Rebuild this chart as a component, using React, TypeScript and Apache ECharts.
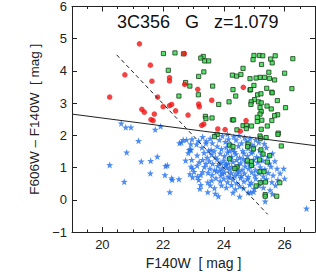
import React, { useEffect, useRef } from 'react';
import * as echarts from 'echarts';

const titleText = '3C356   G   z=1.079';
const xName = 'F140W  [ mag ]';
const yName = 'F606W – F140W  [ mag ]';
const xMajorTicks = [20, 22, 24, 26];

const redCircles: number[][] = [
  [21.22, 4.84], [20.74, 3.88], [20.24, 3.19], [21.58, 4.18], [21.63, 3.68], [21.82, 3.19],
  [21.3, 2.81], [21.38, 2.72], [21.71, 2.66], [21.6, 2.49], [21.67, 2.46], [22.0, 2.89],
  [22.21, 3.79], [22.21, 3.69], [22.21, 2.92], [22.28, 2.96], [22.41, 2.76], [22.82, 2.63],
  [22.7, 4.54], [22.71, 3.58], [23.14, 3.43], [23.17, 2.97], [23.19, 2.89], [23.27, 2.31],
  [23.34, 2.35], [23.6, 3.09], [23.8, 2.2], [24.04, 2.18], [24.54, 2.13], [24.64, 3.49],
  [24.73, 2.46],
];

const greenSquares: number[][] = [
  [22.01, 4.54], [22.39, 4.56], [22.67, 4.53], [22.17, 4.02], [22.74, 3.64], [22.88, 3.53],
  [22.52, 3.22], [23.17, 3.83], [23.16, 3.26], [23.32, 4.45], [23.24, 4.4], [23.37, 4.31],
  [23.5, 4.31], [23.34, 3.97], [23.63, 3.53], [23.83, 2.96], [24.17, 3.04], [24.28, 3.87],
  [24.42, 3.84], [24.56, 3.89], [24.63, 4.08], [24.86, 3.76], [24.3, 3.42], [24.86, 3.41],
  [24.39, 3.22], [24.99, 4.48], [25.17, 4.48], [25.28, 4.47], [25.69, 4.47], [24.96, 4.35],
  [25.24, 4.2], [25.59, 4.25], [25.54, 4.37], [26.0, 3.93], [26.27, 4.38], [25.48, 3.96],
  [25.19, 3.8], [25.34, 3.8], [25.06, 3.78], [25.5, 3.77], [25.67, 3.72], [25.41, 3.46],
  [25.58, 3.34], [25.11, 3.26], [25.01, 3.11], [24.9, 3.04], [24.89, 2.96], [25.14, 3.04],
  [25.23, 3.01], [25.19, 2.86], [25.23, 2.74], [25.19, 2.66], [25.56, 2.82], [26.03, 2.86],
  [25.76, 3.08], [25.42, 2.91], [25.77, 2.64], [25.58, 2.46], [25.25, 2.47], [25.1, 2.43],
  [24.91, 2.29], [24.63, 2.3], [24.28, 2.48], [24.43, 2.17], [23.39, 2.59], [23.41, 2.52],
  [25.43, 2.29], [25.79, 2.07], [24.74, 2.31], [26.24, 3.45], [24.99, 3.55], [24.88, 3.42],
  [25.22, 3.29], [25.59, 3.32], [24.74, 2.21], [25.23, 2.19], [23.61, 2.54], [24.32, 2.48],
  [25.1, 2.56], [25.67, 2.61],
  [23.78, 2.03], [23.69, 1.96], [24.19, 1.7], [24.3, 1.65], [25.19, 1.98], [25.21, 1.91],
  [25.39, 1.93], [24.8, 1.73], [24.78, 1.65], [25.78, 2.03], [25.89, 1.67], [24.19, 1.27],
  [24.43, 1.02], [24.77, 1.21], [24.91, 1.18], [24.91, 1.07], [25.17, 1.24], [25.19, 0.87],
  [25.32, 0.87], [25.43, 1.17], [25.2, 0.53], [25.37, 0.55], [25.36, 0.16], [25.36, 0.11],
  [25.74, 0.11], [25.84, 0.53], [25.06, 0.43], [24.36, 0.97], [24.97, 1.58], [25.22, 1.55],
  [25.29, 1.42], [25.51, 1.37],
];

const blueStars: number[][] = [
  [20.62, 2.37], [20.77, 2.25], [20.94, 2.25], [21.74, 2.18], [21.92, 2.28], [21.19, 1.83],
  [20.24, 1.08], [20.8, 1.47], [21.28, 1.19], [21.59, 1.21], [21.81, 1.34], [20.72, 0.56],
  [22.54, 1.76], [22.66, 1.86], [22.77, 1.86], [22.86, 1.55], [22.91, 1.55], [23.17, 1.83],
  [23.41, 1.75], [22.91, 1.73],
  [23.72, 2.02], [23.95, 1.98], [24.12, 2.04], [24.33, 1.96], [24.5, 1.99], [24.68, 1.93],
  [24.86, 1.9], [25.05, 1.86], [23.55, 1.9], [23.3, 1.95], [22.95, 1.88],
  [22.6, 1.78], [23.1, 1.72], [23.42, 1.82], [23.62, 1.76], [23.85, 1.86], [24.05, 1.8],
  [24.22, 1.72], [24.4, 1.85], [24.58, 1.76], [24.75, 1.82], [24.92, 1.71], [25.15, 1.78],
  [25.33, 1.74], [24.15, 1.88],
  [22.9, 1.57], [23.28, 1.62], [23.5, 1.53], [23.58, 1.55], [23.78, 1.66], [23.92, 1.58],
  [24.08, 1.63], [24.3, 1.55], [24.48, 1.67], [24.62, 1.52], [24.8, 1.6], [25.0, 1.66],
  [25.18, 1.54], [25.4, 1.62], [23.68, 1.51], [24.18, 1.52], [24.95, 1.5],
  [22.83, 1.45], [23.12, 1.38], [23.35, 1.46], [23.6, 1.4], [23.72, 1.32], [23.88, 1.44],
  [24.02, 1.36], [24.12, 1.47], [24.25, 1.34], [24.4, 1.42], [24.52, 1.31], [24.66, 1.44],
  [24.78, 1.36], [24.9, 1.46], [25.08, 1.33], [25.25, 1.41], [25.45, 1.34], [25.6, 1.44],
  [23.45, 1.31], [24.35, 1.49],
  [22.74, 1.22], [22.94, 1.24], [23.19, 1.17], [23.3, 1.24], [23.41, 1.12], [23.52, 1.2],
  [23.63, 1.12], [23.78, 1.26], [23.9, 1.15], [24.0, 1.22], [24.08, 1.11], [24.2, 1.28],
  [24.3, 1.18], [24.42, 1.24], [24.55, 1.14], [24.64, 1.27], [24.72, 1.18], [24.85, 1.12],
  [24.98, 1.25], [25.12, 1.16], [25.28, 1.22], [25.5, 1.13], [25.68, 1.2], [24.15, 1.13],
  [23.85, 1.12],
  [22.08, 1.05], [22.14, 1.07], [22.92, 1.03], [22.97, 0.97], [23.12, 1.06], [23.36, 1.02],
  [23.54, 0.97], [23.69, 0.92], [23.8, 1.05], [23.95, 0.98], [24.05, 1.08], [24.18, 0.94],
  [24.26, 1.02], [24.38, 0.96], [24.48, 1.07], [24.6, 0.93], [24.7, 1.04], [24.82, 0.97],
  [24.95, 1.06], [25.05, 0.92], [25.2, 1.01], [25.35, 0.95], [25.55, 1.03], [25.75, 0.97],
  [25.97, 0.97], [24.1, 1.0], [24.43, 0.91], [23.87, 0.91],
  [22.06, 0.77], [21.58, 0.82], [22.28, 0.67], [22.88, 0.8], [23.02, 0.87], [23.24, 0.77],
  [23.3, 0.87], [23.48, 0.84], [23.61, 0.77], [23.76, 0.88], [23.9, 0.76], [24.02, 0.85],
  [24.14, 0.72], [24.25, 0.83], [24.36, 0.75], [24.5, 0.88], [24.58, 0.74], [24.68, 0.82],
  [24.8, 0.71], [24.92, 0.86], [25.02, 0.76], [25.16, 0.83], [25.3, 0.73], [25.46, 0.84],
  [25.62, 0.76], [25.85, 0.82], [24.45, 0.8], [23.95, 0.82],
  [22.3, 0.62], [22.52, 0.64], [22.97, 0.7], [23.13, 0.72], [23.17, 0.62], [23.47, 0.54],
  [23.74, 0.67], [23.88, 0.58], [24.0, 0.66], [24.12, 0.55], [24.3, 0.63], [24.42, 0.52],
  [24.55, 0.68], [24.66, 0.57], [24.78, 0.64], [24.9, 0.53], [25.05, 0.66], [25.22, 0.58],
  [25.4, 0.64], [25.58, 0.55], [25.78, 0.62], [26.0, 0.66], [24.2, 0.69], [23.6, 0.6],
  [23.24, 0.46], [23.21, 0.34], [23.69, 0.36], [23.92, 0.45], [24.08, 0.38], [24.25, 0.46],
  [24.38, 0.33], [24.52, 0.42], [24.65, 0.36], [24.85, 0.47], [25.0, 0.34], [25.15, 0.44],
  [25.3, 0.38], [25.52, 0.3], [25.7, 0.45], [23.55, 0.45],
  [22.22, 0.24], [23.47, 0.24], [23.72, 0.19], [23.82, 0.11], [24.52, 0.1], [24.8, 0.23],
  [24.88, 0.22], [24.98, 0.25], [25.36, -0.05], [25.6, 0.18], [24.3, 0.22], [26.72, -0.27],
];

const solidLine: number[][] = [[19, 2.66], [27, 1.68]];
const dashedLine: number[][] = [[20.47, 4.5], [25.44, -0.45]];

const starPath =
  'path://M0,-10L2.35,-3.24L9.51,-3.09L3.8,1.24L5.88,8.09L0,4L-5.88,8.09L-3.8,1.24L-9.51,-3.09L-2.35,-3.24Z';

const FONT = '"Liberation Sans", Arial, Helvetica, sans-serif';
const INK = '#222';

export default function App() {
  const ref = useRef<HTMLDivElement>(null);
  useEffect(() => {
    if (!ref.current) return;
    const chart = echarts.init(ref.current, undefined, { renderer: 'svg' });
    const line = { color: INK, width: 1 };
    const minorX = (pos: string) => ({
      type: 'value', position: pos, min: 19, max: 27, interval: 0.5,
      axisLine: { show: true, onZero: false, lineStyle: line },
      axisTick: { show: true, inside: true, length: 2.5, lineStyle: line },
      axisLabel: { show: false }, splitLine: { show: false },
    });
    const majorX = (pos: string, labels: boolean) => ({
      type: 'value', position: pos, min: 19, max: 27,
      axisLine: { show: false, onZero: false },
      axisTick: { show: true, inside: true, length: 5, lineStyle: line, customValues: xMajorTicks },
      axisLabel: labels
        ? { show: true, customValues: xMajorTicks, margin: 6, fontSize: 13, color: INK, fontFamily: FONT }
        : { show: false },
      splitLine: { show: false },
      ...(labels
        ? { name: xName, nameLocation: 'middle', nameGap: 22,
            nameTextStyle: { fontSize: 14, color: INK, fontFamily: FONT } }
        : {}),
    });
    const yAx = (pos: string, labels: boolean) => ({
      type: 'value', position: pos, min: -1, max: 6, interval: 1,
      axisLine: { show: true, onZero: false, lineStyle: line },
      axisTick: { show: true, inside: true, length: 5, lineStyle: line },
      axisLabel: labels
        ? { show: true, margin: 5, fontSize: 13, color: INK, fontFamily: FONT,
            formatter: (v: number) => String(v).replace('-', '\u2212') }
        : { show: false },
      splitLine: { show: false },
      ...(labels
        ? { name: yName, nameLocation: 'middle', nameGap: 27,
            nameTextStyle: { fontSize: 13.5, color: INK, fontFamily: FONT } }
        : {}),
    });
    chart.setOption({
      animation: false,
      backgroundColor: '#fff',
      title: {
        text: titleText, left: 112, top: 8,
        textStyle: { fontSize: 18, fontWeight: 'normal', color: '#111', fontFamily: FONT },
      },
      grid: { left: 72, right: 1, top: 2, bottom: 47, containLabel: false },
      xAxis: [minorX('bottom'), majorX('bottom', true), minorX('top'), majorX('top', false)],
      yAxis: [yAx('left', true), yAx('right', false)],
      series: [
        {
          type: 'scatter', data: blueStars, symbol: starPath, symbolSize: 7,
          itemStyle: { color: '#2470ec' }, xAxisIndex: 0, yAxisIndex: 0,
        },
        {
          type: 'scatter', data: greenSquares, symbol: 'rect', symbolSize: 4.2,
          itemStyle: { color: '#2fd94a', borderColor: '#1b3d1b', borderWidth: 1 },
          xAxisIndex: 0, yAxisIndex: 0,
        },
        {
          type: 'scatter', data: redCircles, symbol: 'circle', symbolSize: 5.5,
          itemStyle: { color: '#f01414' }, xAxisIndex: 0, yAxisIndex: 0,
        },
        {
          type: 'line', data: solidLine, symbol: 'none', xAxisIndex: 0, yAxisIndex: 0,
          lineStyle: { color: INK, width: 1 },
        },
        {
          type: 'line', data: dashedLine, symbol: 'none', xAxisIndex: 0, yAxisIndex: 0,
          lineStyle: { color: INK, width: 1, type: [4, 3] },
        },
      ],
    });
    return () => chart.dispose();
  }, []);
  return (
    <div
      ref={ref}
      style={{ position: 'fixed', left: 0, top: 0, width: 316, height: 279, background: '#fff' }}
    />
  );
}
